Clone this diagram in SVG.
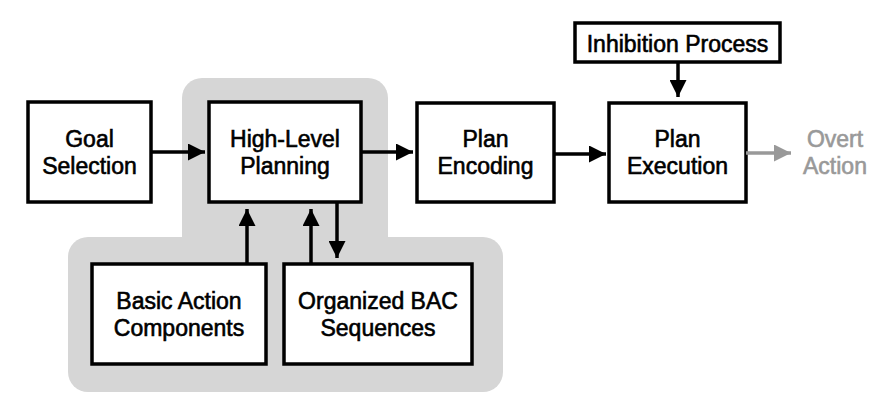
<svg xmlns="http://www.w3.org/2000/svg" width="889" height="407" viewBox="0 0 889 407">
<style>
.box{fill:#fff;stroke:#000;stroke-width:3.5}
.bg{fill:#d6d6d6}
.t{font-family:"Liberation Sans",Arial,sans-serif;font-size:23px;text-anchor:middle;fill:#000;stroke:#000;stroke-width:0.6}
.g{fill:#999;stroke:#999}
.c{stroke:#000;stroke-width:3.5;fill:none}
.cg{stroke:#999;stroke-width:3.5;fill:none}
</style>
<defs>
<marker id="ah" markerUnits="userSpaceOnUse" markerWidth="17" markerHeight="17" refX="16" refY="8" orient="auto" viewBox="0 0 16 16"><path d="M0,0 L16,8 L0,16 z" fill="#000"/></marker>
<marker id="ahg" markerUnits="userSpaceOnUse" markerWidth="17" markerHeight="17" refX="16" refY="8" orient="auto" viewBox="0 0 16 16"><path d="M0,0 L16,8 L0,16 z" fill="#999"/></marker>
</defs>
<rect width="889" height="407" fill="#fff"/>
<g id="background">
<rect class="bg" x="182" y="78" width="206" height="220" rx="20"/>
<rect class="bg" x="68" y="237" width="435" height="155" rx="20"/>
</g>
<g id="goal"><rect class="box" x="28" y="102" width="123" height="100"/><text class="t" x="89.5" y="147">Goal</text><text class="t" x="89.5" y="174">Selection</text></g>
<g id="hlp"><rect class="box" x="209" y="102" width="152" height="100"/><text class="t" x="285" y="147">High-Level</text><text class="t" x="285" y="174">Planning</text></g>
<g id="encoding"><rect class="box" x="417" y="103" width="137" height="99"/><text class="t" x="485.5" y="147">Plan</text><text class="t" x="485.5" y="174">Encoding</text></g>
<g id="execution"><rect class="box" x="609" y="103" width="137" height="99"/><text class="t" x="677.5" y="147">Plan</text><text class="t" x="677.5" y="174">Execution</text></g>
<g id="inhibition"><rect class="box" x="575" y="23" width="205" height="39"/><text class="t" x="677.5" y="52">Inhibition Process</text></g>
<g id="bac"><rect class="box" x="92" y="264" width="174" height="100"/><text class="t" x="179" y="309">Basic Action</text><text class="t" x="179" y="336">Components</text></g>
<g id="obac"><rect class="box" x="284" y="264" width="188" height="100"/><text class="t" x="378" y="309">Organized BAC</text><text class="t" x="378" y="336">Sequences</text></g>
<g id="overt"><text class="t g" x="835" y="147">Overt</text><text class="t g" x="835" y="174">Action</text></g>
<g id="connectors">
<line class="c" x1="151" y1="152" x2="205" y2="152" marker-end="url(#ah)"/>
<line class="c" x1="361" y1="152" x2="413" y2="152" marker-end="url(#ah)"/>
<line class="c" x1="554" y1="154" x2="606" y2="154" marker-end="url(#ah)"/>
<line class="cg" x1="746" y1="153" x2="791" y2="153" marker-end="url(#ahg)"/>
<line class="c" x1="678" y1="62" x2="678" y2="97" marker-end="url(#ah)"/>
<line class="c" x1="247" y1="264" x2="247" y2="209" marker-end="url(#ah)"/>
<line class="c" x1="311" y1="264" x2="311" y2="209" marker-end="url(#ah)"/>
<line class="c" x1="337" y1="202" x2="337" y2="258" marker-end="url(#ah)"/>
</g>
</svg>
